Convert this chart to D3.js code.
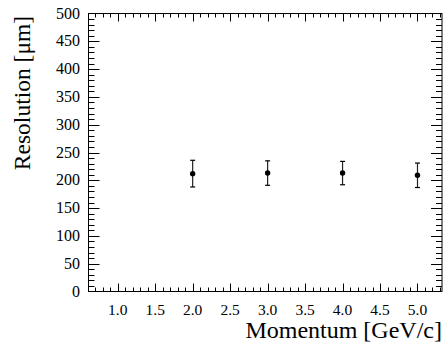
<!DOCTYPE html>
<html>
<head>
<meta charset="utf-8">
<script src="https://cdn.jsdelivr.net/npm/d3@7"></script>
<style>
  html, body { margin: 0; padding: 0; background: #fff; }
  svg { display: block; }
</style>
</head>
<body>
<svg id="chart" width="446" height="344"></svg>
<script>
// Momentum points (GeV/c) and the measured resolution (µm) with symmetric errors
const momentum   = [2.0, 3.0, 4.0, 5.0];
const resolution = [212, 213, 213, 209];
const errors     = [24, 22, 21, 22];

const xTickValues = [1.0, 1.5, 2.0, 2.5, 3.0, 3.5, 4.0, 4.5, 5.0];
const yTickValues = [0, 50, 100, 150, 200, 250, 300, 350, 400, 450, 500];

const FONT = "'Liberation Serif', 'Times New Roman', Times, 'DejaVu Serif', serif";
const frame = { left: 88.5, right: 442, top: 13.5, bottom: 291.5 };

const svg = d3.select("#chart");

const x = d3.scaleLinear().domain([0.61, 5.327]).range([frame.left, frame.right]);
const y = d3.scaleLinear().domain([0, 500]).range([frame.bottom, frame.top]);

const xMinor = d3.range(0.7, 5.31, 0.1).map(v => +v.toFixed(1));
const yMinor = d3.range(0, 501, 10);

// Frame
svg.append("rect")
  .attr("x", frame.left).attr("y", frame.top)
  .attr("width", frame.right - frame.left).attr("height", frame.bottom - frame.top)
  .attr("fill", "none").attr("stroke", "#000").attr("stroke-width", 1);

const tickG = svg.append("g").attr("stroke", "#000").attr("stroke-width", 1);

// Bottom and top ticks (pointing inward)
xMinor.forEach(v => {
  const major = xTickValues.some(t => Math.abs(t - v) < 1e-6);
  const len = major ? 8 : 4;
  const px = Math.round(x(v)) + 0.5;
  tickG.append("line").attr("x1", px).attr("x2", px)
    .attr("y1", frame.bottom).attr("y2", frame.bottom - len);
  tickG.append("line").attr("x1", px).attr("x2", px)
    .attr("y1", frame.top).attr("y2", frame.top + len);
});

// Left and right ticks (pointing inward)
yMinor.forEach(v => {
  if (v === 0 || v === 500) return;
  const major = v % 50 === 0;
  const len = major ? 11 : 6;
  const py = Math.round(y(v)) + 0.5;
  tickG.append("line").attr("x1", frame.left).attr("x2", frame.left + len)
    .attr("y1", py).attr("y2", py);
  tickG.append("line").attr("x1", frame.right).attr("x2", frame.right - len)
    .attr("y1", py).attr("y2", py);
});

// Tick labels
svg.append("g").selectAll("text").data(xTickValues).join("text")
  .attr("x", d => x(d)).attr("y", 315)
  .attr("text-anchor", "middle").attr("font-size", 15.5)
  .attr("font-family", FONT).attr("fill", "#000")
  .text(d => d.toFixed(1));

svg.append("g").selectAll("text").data(yTickValues).join("text")
  .attr("x", 80).attr("y", d => y(d) + 5)
  .attr("text-anchor", "end").attr("font-size", 16)
  .attr("font-family", FONT).attr("fill", "#000")
  .text(d => d);

// Axis titles
svg.append("text")
  .attr("x", frame.right).attr("y", 337.5)
  .attr("text-anchor", "end").attr("font-size", 24)
  .attr("font-family", FONT).attr("fill", "#000")
  .text("Momentum [GeV/c]");

svg.append("text")
  .attr("transform", "translate(30,93) rotate(-90)")
  .attr("text-anchor", "middle").attr("font-size", 23.5)
  .attr("font-family", FONT).attr("fill", "#000")
  .text("Resolution [μm]");

// Data points with error bars
const pts = momentum.map((m, i) => ({ m, r: resolution[i], e: errors[i] }));
const pg = svg.append("g");
pg.selectAll("line.bar").data(pts).join("line").attr("class", "bar")
  .attr("x1", d => x(d.m)).attr("x2", d => x(d.m))
  .attr("y1", d => y(d.r + d.e)).attr("y2", d => y(d.r - d.e))
  .attr("stroke", "#222").attr("stroke-width", 1.2);
[1, -1].forEach(s => {
  pg.selectAll(null).data(pts).join("line")
    .attr("x1", d => x(d.m) - 2.5).attr("x2", d => x(d.m) + 2.5)
    .attr("y1", d => y(d.r + s * d.e)).attr("y2", d => y(d.r + s * d.e))
    .attr("stroke", "#000").attr("stroke-width", 1.2);
});
pg.selectAll("circle").data(pts).join("circle")
  .attr("cx", d => x(d.m)).attr("cy", d => y(d.r))
  .attr("r", 2.7).attr("fill", "#000");
</script>
</body>
</html>
